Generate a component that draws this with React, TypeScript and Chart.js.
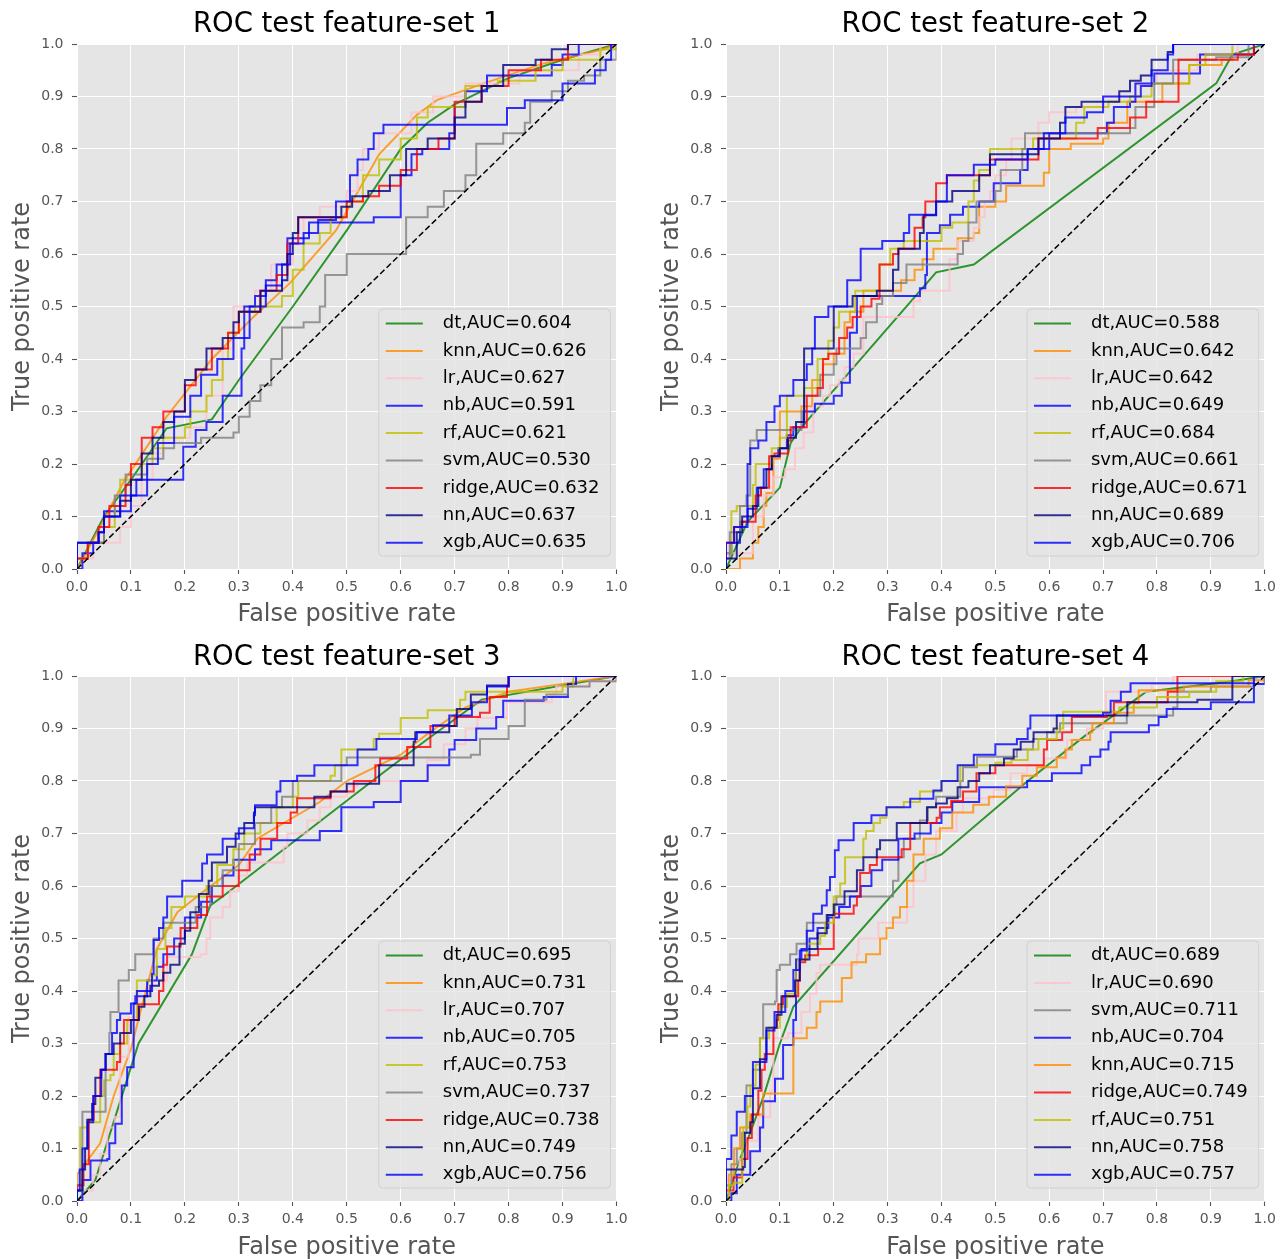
import React, { useEffect, useRef } from 'react';
import { Chart, registerables } from 'chart.js';

Chart.register(...registerables);

type Pt = [number, number];

const tickLabels = ['0.0', '0.1', '0.2', '0.3', '0.4', '0.5', '0.6', '0.7', '0.8', '0.9', '1.0'];
const xAxisTitle = 'False positive rate';
const yAxisTitle = 'True positive rate';
const panelTitles = ['ROC test feature-set 1', 'ROC test feature-set 2', 'ROC test feature-set 3', 'ROC test feature-set 4'];

// ---------------- feature-set 1 ----------------
const models1 = ['dt', 'knn', 'lr', 'nb', 'rf', 'svm', 'ridge', 'nn', 'xgb'];
const auc1 = [0.604, 0.626, 0.627, 0.591, 0.621, 0.53, 0.632, 0.637, 0.635];
const smooth1 = ['dt', 'knn'];
const fs1_dt: Pt[] = [[0, 0], [0.05, 0.1], [0.1, 0.17], [0.166, 0.268], [0.25, 0.285], [0.3, 0.36], [0.4, 0.5], [0.5, 0.645], [0.6, 0.8], [0.65, 0.85], [0.7, 0.885], [0.8, 0.935], [0.9, 0.97], [1, 1]];
const fs1_knn: Pt[] = [[0, 0], [0.043, 0.08], [0.086, 0.165], [0.166, 0.29], [0.25, 0.4], [0.327, 0.48], [0.395, 0.545], [0.48, 0.645], [0.56, 0.79], [0.63, 0.865], [0.667, 0.893], [0.754, 0.925], [0.865, 0.963], [0.976, 0.99], [1, 1]];
const fs1_lr: Pt[] = [[0, 0], [0, 0.02], [0.03, 0.05], [0.08, 0.08], [0.1, 0.12], [0.12, 0.17], [0.14, 0.22], [0.16, 0.25], [0.21, 0.27], [0.24, 0.33], [0.27, 0.42], [0.29, 0.5], [0.33, 0.53], [0.36, 0.58], [0.4, 0.63], [0.42, 0.67], [0.45, 0.69], [0.5, 0.72], [0.52, 0.76], [0.53, 0.8], [0.56, 0.83], [0.62, 0.87], [0.66, 0.9], [0.72, 0.925], [0.82, 0.95], [0.93, 0.98], [0.97, 1], [1, 1]];
const fs1_nb: Pt[] = [[0, 0], [0.01, 0.03], [0.03, 0.05], [0.05, 0.11], [0.1, 0.11], [0.1, 0.14], [0.13, 0.17], [0.197, 0.233], [0.22, 0.265], [0.24, 0.28], [0.27, 0.33], [0.305, 0.42], [0.31, 0.5], [0.33, 0.52], [0.35, 0.55], [0.37, 0.58], [0.39, 0.63], [0.43, 0.66], [0.55, 0.67], [0.6, 0.75], [0.62, 0.79], [0.64, 0.8], [0.69, 0.83], [0.7, 0.88], [0.72, 0.91], [0.76, 0.94], [0.84, 0.94], [0.88, 0.96], [0.9, 0.98], [0.93, 1], [1, 1]];
const fs1_rf: Pt[] = [[0, 0], [0, 0.02], [0.02, 0.05], [0.05, 0.08], [0.07, 0.12], [0.08, 0.17], [0.12, 0.2], [0.14, 0.23], [0.16, 0.25], [0.2, 0.27], [0.21, 0.3], [0.24, 0.33], [0.25, 0.36], [0.27, 0.4], [0.28, 0.45], [0.3, 0.49], [0.33, 0.5], [0.38, 0.52], [0.4, 0.57], [0.42, 0.62], [0.45, 0.64], [0.47, 0.67], [0.5, 0.7], [0.53, 0.75], [0.56, 0.78], [0.6, 0.82], [0.63, 0.86], [0.65, 0.88], [0.72, 0.92], [0.78, 0.93], [0.85, 0.95], [0.9, 0.97], [0.97, 0.99], [1, 1]];
const fs1_svm: Pt[] = [[0, 0], [0, 0.02], [0.02, 0.05], [0.05, 0.1], [0.07, 0.14], [0.09, 0.18], [0.13, 0.21], [0.16, 0.23], [0.18, 0.24], [0.23, 0.25], [0.29, 0.26], [0.3, 0.29], [0.32, 0.32], [0.34, 0.35], [0.36, 0.4], [0.38, 0.46], [0.42, 0.47], [0.45, 0.5], [0.46, 0.56], [0.5, 0.6], [0.6, 0.6], [0.61, 0.67], [0.65, 0.69], [0.68, 0.72], [0.72, 0.75], [0.74, 0.81], [0.79, 0.83], [0.83, 0.85], [0.84, 0.89], [0.88, 0.91], [0.91, 0.93], [0.94, 0.94], [0.97, 0.97], [1, 1]];
const fs1_ridge: Pt[] = [[0, 0], [0, 0.02], [0.02, 0.05], [0.04, 0.08], [0.06, 0.12], [0.09, 0.16], [0.1, 0.2], [0.12, 0.25], [0.14, 0.27], [0.16, 0.3], [0.2, 0.35], [0.22, 0.38], [0.25, 0.42], [0.28, 0.45], [0.3, 0.49], [0.34, 0.53], [0.37, 0.56], [0.39, 0.62], [0.41, 0.67], [0.47, 0.67], [0.5, 0.7], [0.53, 0.71], [0.56, 0.73], [0.6, 0.76], [0.63, 0.8], [0.67, 0.82], [0.7, 0.89], [0.75, 0.92], [0.8, 0.95], [0.86, 0.97], [0.91, 1], [1, 1]];
const fs1_nn: Pt[] = [[0, 0], [0, 0.05], [0.04, 0.07], [0.05, 0.1], [0.08, 0.13], [0.1, 0.17], [0.12, 0.22], [0.14, 0.25], [0.16, 0.28], [0.18, 0.3], [0.2, 0.36], [0.22, 0.38], [0.24, 0.42], [0.27, 0.44], [0.29, 0.47], [0.3, 0.49], [0.34, 0.53], [0.38, 0.55], [0.39, 0.6], [0.4, 0.64], [0.41, 0.67], [0.49, 0.69], [0.51, 0.71], [0.54, 0.72], [0.58, 0.75], [0.61, 0.8], [0.65, 0.82], [0.7, 0.86], [0.72, 0.89], [0.75, 0.92], [0.79, 0.96], [0.85, 0.97], [0.88, 0.99], [0.91, 1], [1, 1]];
const fs1_xgb: Pt[] = [[0, 0], [0, 0.05], [0.04, 0.07], [0.05, 0.1], [0.08, 0.14], [0.11, 0.17], [0.13, 0.2], [0.15, 0.24], [0.18, 0.29], [0.21, 0.33], [0.23, 0.37], [0.26, 0.4], [0.29, 0.44], [0.32, 0.5], [0.35, 0.54], [0.38, 0.58], [0.395, 0.62], [0.42, 0.64], [0.447, 0.665], [0.48, 0.7], [0.506, 0.75], [0.52, 0.78], [0.54, 0.8], [0.55, 0.83], [0.568, 0.846], [0.797, 0.878], [0.83, 0.893], [0.9, 0.925], [0.96, 0.95], [0.98, 0.97], [0.99, 1], [1, 1]];

// ---------------- feature-set 2 ----------------
const models2 = ['dt', 'knn', 'lr', 'nb', 'rf', 'svm', 'ridge', 'nn', 'xgb'];
const auc2 = [0.588, 0.642, 0.642, 0.649, 0.684, 0.661, 0.671, 0.689, 0.706];
const smooth2 = ['dt'];
const fs2_dt: Pt[] = [[0, 0], [0.04, 0.09], [0.1, 0.155], [0.12, 0.24], [0.14, 0.27], [0.39, 0.565], [0.46, 0.58], [0.91, 0.925], [0.94, 0.98], [1, 1]];
const fs2_knn: Pt[] = [[0, 0], [0.014, 0], [0.026, 0.02], [0.05, 0.05], [0.06, 0.08], [0.07, 0.12], [0.075, 0.145], [0.088, 0.21], [0.1, 0.3], [0.14, 0.31], [0.16, 0.36], [0.18, 0.39], [0.2, 0.41], [0.22, 0.47], [0.23, 0.49], [0.255, 0.53], [0.31, 0.53], [0.325, 0.55], [0.35, 0.57], [0.365, 0.59], [0.385, 0.61], [0.43, 0.63], [0.46, 0.64], [0.47, 0.69], [0.5, 0.7], [0.52, 0.73], [0.59, 0.755], [0.6, 0.8], [0.64, 0.81], [0.7, 0.82], [0.71, 0.85], [0.745, 0.89], [0.81, 0.925], [0.86, 0.96], [0.92, 0.97], [0.94, 0.98], [0.98, 1], [1, 1]];
const fs2_lr: Pt[] = [[0, 0], [0, 0.02], [0.007, 0.03], [0.05, 0.1], [0.07, 0.14], [0.088, 0.175], [0.11, 0.19], [0.128, 0.23], [0.144, 0.26], [0.162, 0.31], [0.18, 0.33], [0.193, 0.35], [0.21, 0.36], [0.22, 0.385], [0.237, 0.41], [0.255, 0.48], [0.335, 0.48], [0.348, 0.51], [0.36, 0.53], [0.415, 0.59], [0.43, 0.625], [0.46, 0.65], [0.47, 0.67], [0.48, 0.7], [0.49, 0.72], [0.5, 0.75], [0.52, 0.78], [0.53, 0.82], [0.58, 0.85], [0.6, 0.87], [0.65, 0.88], [0.7, 0.9], [0.76, 0.925], [0.8, 0.95], [0.875, 0.98], [0.95, 1], [1, 1]];
const fs2_nb: Pt[] = [[0, 0], [0, 0.03], [0.01, 0.05], [0.026, 0.09], [0.04, 0.115], [0.057, 0.155], [0.07, 0.19], [0.085, 0.215], [0.097, 0.23], [0.113, 0.255], [0.125, 0.27], [0.144, 0.3], [0.165, 0.315], [0.2, 0.33], [0.215, 0.355], [0.23, 0.45], [0.243, 0.52], [0.348, 0.52], [0.36, 0.535], [0.37, 0.56], [0.373, 0.64], [0.397, 0.655], [0.416, 0.675], [0.44, 0.69], [0.47, 0.7], [0.497, 0.735], [0.546, 0.76], [0.56, 0.8], [0.6, 0.83], [0.707, 0.85], [0.72, 0.88], [0.75, 0.89], [0.76, 0.925], [0.795, 0.944], [0.88, 0.98], [0.98, 1], [1, 1]];
const fs2_rf: Pt[] = [[0, 0], [0, 0.03], [0.01, 0.11], [0.02, 0.12], [0.05, 0.16], [0.055, 0.2], [0.085, 0.23], [0.1, 0.25], [0.113, 0.33], [0.145, 0.345], [0.17, 0.4], [0.19, 0.435], [0.2, 0.46], [0.21, 0.49], [0.24, 0.53], [0.285, 0.58], [0.305, 0.61], [0.33, 0.625], [0.4, 0.65], [0.42, 0.66], [0.45, 0.7], [0.46, 0.74], [0.47, 0.76], [0.49, 0.8], [0.57, 0.82], [0.65, 0.85], [0.665, 0.88], [0.71, 0.89], [0.75, 0.9], [0.79, 0.925], [0.86, 0.96], [0.89, 0.98], [0.94, 1], [1, 1]];
const fs2_svm: Pt[] = [[0, 0], [0, 0.02], [0.007, 0.07], [0.026, 0.12], [0.038, 0.14], [0.045, 0.245], [0.057, 0.265], [0.1, 0.265], [0.14, 0.3], [0.145, 0.33], [0.175, 0.37], [0.2, 0.39], [0.205, 0.42], [0.25, 0.44], [0.26, 0.47], [0.28, 0.505], [0.29, 0.52], [0.31, 0.545], [0.335, 0.58], [0.43, 0.6], [0.44, 0.625], [0.45, 0.66], [0.465, 0.7], [0.5, 0.72], [0.51, 0.76], [0.55, 0.8], [0.555, 0.83], [0.75, 0.84], [0.76, 0.88], [0.795, 0.925], [0.83, 0.97], [0.91, 0.975], [0.97, 1], [1, 1]];
const fs2_ridge: Pt[] = [[0, 0], [0, 0.05], [0.015, 0.08], [0.03, 0.09], [0.055, 0.14], [0.065, 0.155], [0.08, 0.215], [0.09, 0.22], [0.115, 0.245], [0.12, 0.27], [0.15, 0.33], [0.17, 0.345], [0.18, 0.4], [0.19, 0.41], [0.21, 0.44], [0.225, 0.46], [0.235, 0.48], [0.25, 0.5], [0.27, 0.515], [0.285, 0.58], [0.31, 0.6], [0.32, 0.61], [0.35, 0.65], [0.365, 0.67], [0.37, 0.7], [0.39, 0.735], [0.41, 0.75], [0.49, 0.78], [0.58, 0.82], [0.69, 0.84], [0.75, 0.86], [0.78, 0.89], [0.84, 0.97], [0.95, 0.98], [0.98, 1], [1, 1]];
const fs2_nn: Pt[] = [[0, 0], [0, 0.02], [0.02, 0.07], [0.03, 0.1], [0.05, 0.12], [0.06, 0.155], [0.075, 0.19], [0.085, 0.215], [0.1, 0.23], [0.115, 0.25], [0.13, 0.28], [0.145, 0.295], [0.145, 0.42], [0.2, 0.42], [0.2, 0.5], [0.235, 0.52], [0.28, 0.53], [0.31, 0.57], [0.32, 0.61], [0.36, 0.64], [0.367, 0.674], [0.39, 0.7], [0.42, 0.72], [0.47, 0.75], [0.49, 0.79], [0.58, 0.82], [0.62, 0.85], [0.63, 0.88], [0.66, 0.89], [0.73, 0.91], [0.75, 0.93], [0.77, 0.94], [0.79, 0.97], [0.82, 0.985], [0.83, 1], [1, 1]];
const fs2_xgb: Pt[] = [[0, 0], [0, 0.05], [0.015, 0.08], [0.04, 0.2], [0.045, 0.23], [0.06, 0.245], [0.075, 0.28], [0.09, 0.31], [0.1, 0.33], [0.125, 0.36], [0.15, 0.39], [0.16, 0.42], [0.165, 0.48], [0.19, 0.5], [0.22, 0.5], [0.225, 0.55], [0.25, 0.61], [0.29, 0.625], [0.33, 0.64], [0.34, 0.675], [0.39, 0.7], [0.41, 0.75], [0.46, 0.77], [0.5, 0.78], [0.56, 0.8], [0.59, 0.83], [0.63, 0.86], [0.67, 0.87], [0.7, 0.9], [0.77, 0.92], [0.79, 0.95], [0.82, 0.98], [0.83, 1], [1, 1]];

// ---------------- feature-set 3 ----------------
const models3 = ['dt', 'knn', 'lr', 'nb', 'rf', 'svm', 'ridge', 'nn', 'xgb'];
const auc3 = [0.695, 0.731, 0.707, 0.705, 0.753, 0.737, 0.738, 0.749, 0.756];
const smooth3 = ['dt', 'knn'];
const fs3_dt: Pt[] = [[0, 0], [0.034, 0.04], [0.114, 0.3], [0.213, 0.47], [0.247, 0.563], [0.27, 0.58], [0.56, 0.81], [0.65, 0.88], [0.75, 0.955], [1, 1]];
const fs3_knn: Pt[] = [[0, 0], [0, 0.05], [0.043, 0.11], [0.068, 0.2], [0.1, 0.29], [0.13, 0.41], [0.148, 0.48], [0.186, 0.55], [0.235, 0.59], [0.3, 0.64], [0.334, 0.69], [0.4, 0.73], [0.45, 0.76], [0.5, 0.8], [0.6, 0.85], [0.65, 0.89], [0.72, 0.94], [0.8, 0.97], [0.9, 0.985], [1, 1]];
const fs3_lr: Pt[] = [[0, 0], [0.01, 0.02], [0.03, 0.05], [0.043, 0.09], [0.056, 0.14], [0.07, 0.16], [0.08, 0.275], [0.096, 0.35], [0.114, 0.4], [0.14, 0.42], [0.167, 0.465], [0.229, 0.47], [0.24, 0.5], [0.247, 0.54], [0.27, 0.56], [0.284, 0.59], [0.3, 0.62], [0.315, 0.645], [0.383, 0.675], [0.39, 0.7], [0.427, 0.725], [0.45, 0.75], [0.47, 0.77], [0.5, 0.79], [0.52, 0.8], [0.636, 0.8], [0.649, 0.84], [0.68, 0.87], [0.72, 0.9], [0.742, 0.92], [0.797, 0.95], [0.88, 0.965], [0.888, 0.98], [0.95, 0.99], [1, 1]];
const fs3_nb: Pt[] = [[0, 0], [0.005, 0], [0.01, 0.04], [0.025, 0.077], [0.056, 0.08], [0.06, 0.11], [0.071, 0.147], [0.083, 0.22], [0.093, 0.255], [0.105, 0.31], [0.105, 0.376], [0.108, 0.39], [0.13, 0.42], [0.148, 0.446], [0.16, 0.47], [0.18, 0.5], [0.2, 0.54], [0.23, 0.57], [0.25, 0.6], [0.27, 0.62], [0.29, 0.65], [0.33, 0.67], [0.36, 0.687], [0.45, 0.705], [0.49, 0.75], [0.55, 0.76], [0.6, 0.8], [0.65, 0.83], [0.69, 0.86], [0.7, 0.878], [0.74, 0.9], [0.777, 0.922], [0.79, 0.953], [0.865, 0.96], [0.91, 0.985], [0.925, 1], [1, 1]];
const fs3_rf: Pt[] = [[0, 0], [0, 0.02], [0.006, 0.14], [0.02, 0.15], [0.043, 0.2], [0.05, 0.23], [0.062, 0.24], [0.068, 0.28], [0.08, 0.3], [0.093, 0.345], [0.111, 0.36], [0.111, 0.42], [0.14, 0.43], [0.148, 0.48], [0.164, 0.52], [0.175, 0.56], [0.2, 0.58], [0.24, 0.6], [0.26, 0.64], [0.29, 0.67], [0.31, 0.7], [0.34, 0.72], [0.37, 0.75], [0.4, 0.77], [0.41, 0.8], [0.47, 0.81], [0.478, 0.83], [0.49, 0.86], [0.55, 0.88], [0.56, 0.89], [0.6, 0.92], [0.65, 0.935], [0.71, 0.955], [0.72, 0.97], [0.9, 0.98], [0.92, 1], [1, 1]];
const fs3_svm: Pt[] = [[0, 0], [0, 0.02], [0.01, 0.17], [0.05, 0.17], [0.053, 0.28], [0.06, 0.32], [0.062, 0.36], [0.077, 0.42], [0.096, 0.44], [0.108, 0.47], [0.142, 0.5], [0.16, 0.53], [0.21, 0.53], [0.22, 0.56], [0.247, 0.6], [0.27, 0.63], [0.3, 0.68], [0.33, 0.72], [0.36, 0.75], [0.38, 0.77], [0.4, 0.8], [0.49, 0.83], [0.5, 0.845], [0.73, 0.85], [0.747, 0.88], [0.8, 0.905], [0.83, 0.955], [0.87, 0.965], [0.91, 0.98], [0.95, 0.99], [1, 1]];
const fs3_ridge: Pt[] = [[0, 0], [0, 0.03], [0.012, 0.07], [0.022, 0.155], [0.031, 0.2], [0.043, 0.25], [0.074, 0.265], [0.08, 0.3], [0.087, 0.345], [0.114, 0.375], [0.152, 0.4], [0.16, 0.45], [0.167, 0.485], [0.192, 0.52], [0.223, 0.545], [0.241, 0.58], [0.27, 0.6], [0.3, 0.63], [0.32, 0.66], [0.34, 0.69], [0.371, 0.72], [0.396, 0.74], [0.408, 0.767], [0.47, 0.78], [0.513, 0.8], [0.553, 0.83], [0.562, 0.843], [0.612, 0.865], [0.655, 0.905], [0.7, 0.922], [0.747, 0.93], [0.765, 0.96], [0.797, 0.98], [0.8, 1], [1, 1]];
const fs3_nn: Pt[] = [[0, 0], [0, 0.02], [0.01, 0.06], [0.015, 0.1], [0.019, 0.155], [0.028, 0.185], [0.034, 0.235], [0.045, 0.25], [0.053, 0.28], [0.068, 0.3], [0.08, 0.32], [0.1, 0.345], [0.115, 0.37], [0.125, 0.39], [0.136, 0.41], [0.152, 0.42], [0.16, 0.435], [0.173, 0.45], [0.19, 0.46], [0.19, 0.49], [0.2, 0.515], [0.21, 0.55], [0.226, 0.585], [0.244, 0.61], [0.25, 0.645], [0.278, 0.675], [0.294, 0.7], [0.31, 0.72], [0.328, 0.74], [0.33, 0.75], [0.44, 0.77], [0.47, 0.78], [0.5, 0.795], [0.56, 0.83], [0.624, 0.875], [0.627, 0.893], [0.69, 0.905], [0.704, 0.937], [0.73, 0.965], [0.76, 0.982], [0.8, 1], [1, 1]];
const fs3_xgb: Pt[] = [[0, 0], [0, 0.02], [0.005, 0.06], [0.01, 0.1], [0.02, 0.15], [0.03, 0.2], [0.045, 0.25], [0.053, 0.28], [0.065, 0.32], [0.074, 0.345], [0.08, 0.357], [0.1, 0.376], [0.111, 0.4], [0.139, 0.433], [0.142, 0.497], [0.152, 0.52], [0.16, 0.54], [0.167, 0.58], [0.195, 0.61], [0.232, 0.643], [0.241, 0.66], [0.27, 0.69], [0.3, 0.71], [0.328, 0.735], [0.33, 0.754], [0.37, 0.78], [0.377, 0.8], [0.408, 0.81], [0.44, 0.83], [0.52, 0.86], [0.555, 0.88], [0.63, 0.893], [0.66, 0.906], [0.69, 0.925], [0.732, 0.95], [0.76, 0.98], [0.8, 1], [1, 1]];

// ---------------- feature-set 4 ----------------
const models4 = ['dt', 'lr', 'svm', 'nb', 'knn', 'ridge', 'rf', 'nn', 'xgb'];
const auc4 = [0.689, 0.69, 0.711, 0.704, 0.715, 0.749, 0.751, 0.758, 0.757];
const smooth4 = ['dt'];
const fs4_dt: Pt[] = [[0, 0], [0.026, 0.08], [0.045, 0.13], [0.07, 0.2], [0.1, 0.3], [0.125, 0.37], [0.36, 0.643], [0.4, 0.66], [0.56, 0.8], [0.665, 0.885], [0.733, 0.935], [0.78, 0.97], [0.94, 0.99], [1, 1]];
const fs4_lr: Pt[] = [[0, 0], [0, 0.04], [0.01, 0.06], [0.025, 0.08], [0.038, 0.115], [0.06, 0.16], [0.082, 0.21], [0.088, 0.31], [0.115, 0.32], [0.14, 0.36], [0.156, 0.395], [0.168, 0.435], [0.175, 0.45], [0.243, 0.47], [0.246, 0.5], [0.283, 0.53], [0.336, 0.56], [0.348, 0.61], [0.37, 0.66], [0.39, 0.705], [0.428, 0.74], [0.44, 0.767], [0.497, 0.783], [0.528, 0.815], [0.559, 0.83], [0.59, 0.843], [0.633, 0.878], [0.67, 0.9], [0.7, 0.92], [0.705, 0.97], [0.79, 0.985], [0.83, 1], [1, 1]];
const fs4_svm: Pt[] = [[0, 0], [0, 0.03], [0.01, 0.07], [0.02, 0.1], [0.03, 0.13], [0.038, 0.165], [0.038, 0.22], [0.05, 0.25], [0.063, 0.31], [0.069, 0.375], [0.091, 0.38], [0.094, 0.44], [0.1, 0.45], [0.119, 0.47], [0.131, 0.49], [0.15, 0.53], [0.18, 0.53], [0.19, 0.545], [0.202, 0.565], [0.205, 0.58], [0.3, 0.58], [0.31, 0.61], [0.32, 0.655], [0.33, 0.69], [0.36, 0.725], [0.375, 0.75], [0.39, 0.77], [0.435, 0.8], [0.44, 0.826], [0.466, 0.846], [0.528, 0.846], [0.54, 0.86], [0.57, 0.88], [0.596, 0.893], [0.62, 0.91], [0.744, 0.925], [0.83, 0.94], [0.838, 0.97], [0.9, 0.98], [0.98, 1], [1, 1]];
const fs4_nb: Pt[] = [[0, 0], [0.01, 0.015], [0.02, 0.05], [0.045, 0.095], [0.063, 0.14], [0.069, 0.19], [0.088, 0.19], [0.091, 0.233], [0.106, 0.297], [0.125, 0.345], [0.13, 0.46], [0.14, 0.48], [0.155, 0.5], [0.17, 0.52], [0.19, 0.54], [0.21, 0.56], [0.23, 0.58], [0.25, 0.6], [0.27, 0.63], [0.29, 0.65], [0.32, 0.69], [0.35, 0.7], [0.38, 0.72], [0.4, 0.74], [0.42, 0.76], [0.47, 0.788], [0.559, 0.8], [0.605, 0.815], [0.66, 0.83], [0.676, 0.846], [0.695, 0.86], [0.71, 0.875], [0.714, 0.893], [0.785, 0.906], [0.803, 0.922], [0.818, 0.937], [0.9, 0.95], [0.98, 0.985], [1, 1]];
const fs4_knn: Pt[] = [[0, 0], [0.005, 0.05], [0.015, 0.1], [0.026, 0.14], [0.045, 0.165], [0.069, 0.205], [0.113, 0.205], [0.125, 0.22], [0.125, 0.31], [0.15, 0.33], [0.168, 0.36], [0.175, 0.38], [0.215, 0.395], [0.215, 0.425], [0.233, 0.455], [0.26, 0.47], [0.286, 0.5], [0.298, 0.52], [0.31, 0.54], [0.323, 0.56], [0.336, 0.61], [0.348, 0.66], [0.367, 0.69], [0.397, 0.71], [0.42, 0.74], [0.459, 0.755], [0.488, 0.77], [0.52, 0.79], [0.55, 0.81], [0.577, 0.826], [0.614, 0.845], [0.63, 0.86], [0.642, 0.878], [0.676, 0.893], [0.68, 0.91], [0.72, 0.93], [0.757, 0.948], [0.766, 0.973], [0.85, 0.98], [0.97, 0.992], [1, 1]];
const fs4_ridge: Pt[] = [[0, 0], [0, 0.02], [0.014, 0.045], [0.03, 0.08], [0.04, 0.12], [0.048, 0.165], [0.06, 0.21], [0.066, 0.25], [0.072, 0.28], [0.088, 0.33], [0.094, 0.345], [0.097, 0.375], [0.106, 0.39], [0.131, 0.39], [0.134, 0.42], [0.137, 0.455], [0.147, 0.468], [0.171, 0.48], [0.2, 0.5], [0.2, 0.547], [0.215, 0.547], [0.237, 0.563], [0.243, 0.58], [0.249, 0.625], [0.267, 0.64], [0.28, 0.655], [0.326, 0.67], [0.342, 0.72], [0.391, 0.73], [0.397, 0.75], [0.418, 0.762], [0.44, 0.78], [0.465, 0.815], [0.5, 0.83], [0.59, 0.86], [0.596, 0.878], [0.624, 0.893], [0.642, 0.922], [0.707, 0.925], [0.72, 0.95], [0.82, 0.97], [0.838, 1], [1, 1]];
const fs4_rf: Pt[] = [[0, 0], [0.005, 0.03], [0.014, 0.035], [0.03, 0.1], [0.032, 0.14], [0.04, 0.18], [0.045, 0.22], [0.055, 0.26], [0.063, 0.31], [0.08, 0.33], [0.1, 0.37], [0.113, 0.395], [0.13, 0.44], [0.134, 0.46], [0.15, 0.49], [0.175, 0.505], [0.184, 0.53], [0.2, 0.53], [0.2, 0.58], [0.212, 0.605], [0.221, 0.655], [0.255, 0.69], [0.26, 0.705], [0.274, 0.72], [0.286, 0.73], [0.298, 0.75], [0.33, 0.76], [0.36, 0.78], [0.4, 0.8], [0.435, 0.83], [0.5, 0.835], [0.53, 0.84], [0.56, 0.86], [0.58, 0.88], [0.614, 0.9], [0.626, 0.932], [0.73, 0.94], [0.8, 0.96], [0.86, 0.97], [0.91, 0.99], [0.96, 1], [1, 1]];
const fs4_nn: Pt[] = [[0, 0], [0, 0.06], [0.032, 0.065], [0.035, 0.13], [0.045, 0.15], [0.05, 0.215], [0.063, 0.27], [0.075, 0.33], [0.094, 0.355], [0.103, 0.39], [0.128, 0.42], [0.137, 0.46], [0.155, 0.48], [0.17, 0.51], [0.187, 0.545], [0.2, 0.565], [0.22, 0.59], [0.243, 0.63], [0.255, 0.655], [0.28, 0.67], [0.286, 0.687], [0.317, 0.72], [0.373, 0.75], [0.39, 0.757], [0.41, 0.767], [0.43, 0.788], [0.45, 0.8], [0.47, 0.815], [0.49, 0.83], [0.516, 0.843], [0.534, 0.86], [0.547, 0.875], [0.571, 0.893], [0.608, 0.9], [0.614, 0.925], [0.745, 0.95], [0.875, 0.955], [0.94, 1], [1, 1]];
const fs4_xgb: Pt[] = [[0, 0], [0, 0.08], [0.01, 0.125], [0.02, 0.17], [0.035, 0.2], [0.05, 0.265], [0.075, 0.325], [0.09, 0.36], [0.11, 0.4], [0.125, 0.44], [0.137, 0.477], [0.15, 0.515], [0.162, 0.547], [0.178, 0.563], [0.187, 0.592], [0.193, 0.617], [0.202, 0.668], [0.209, 0.687], [0.237, 0.72], [0.27, 0.735], [0.298, 0.75], [0.342, 0.766], [0.385, 0.782], [0.4, 0.8], [0.43, 0.83], [0.46, 0.85], [0.5, 0.87], [0.54, 0.88], [0.56, 0.9], [0.565, 0.925], [0.7, 0.93], [0.714, 0.953], [0.733, 0.97], [0.751, 0.986], [0.98, 1], [1, 1]];

// ---------------- styling ----------------
const FONT = '"DejaVu Sans", "Liberation Sans", sans-serif';
const modelColors: Record<string, string> = {
  dt: 'rgba(0,128,0,0.8)',
  knn: 'rgba(255,140,0,0.8)',
  lr: 'rgba(255,192,203,0.8)',
  nb: 'rgba(0,0,255,0.8)',
  rf: 'rgba(191,191,0,0.8)',
  svm: 'rgba(128,128,128,0.8)',
  ridge: 'rgba(255,0,0,0.8)',
  nn: 'rgba(0,0,128,0.8)',
  xgb: 'rgba(0,0,255,0.8)',
};

interface Layout {
  left: number; top: number; w: number; h: number;
  yW: number; xH: number; padTop: number; padRight: number;
  yTitlePad: number; xTitlePad: number; titleGap: number;
}

interface PanelCfg {
  title: string;
  models: string[];
  aucs: number[];
  curves: Pt[][];
  smooth: string[];
  layout: Layout;
}

const panels: PanelCfg[] = [
  {
    title: panelTitles[0], models: models1, aucs: auc1, smooth: smooth1,
    curves: [fs1_dt, fs1_knn, fs1_lr, fs1_nb, fs1_rf, fs1_svm, fs1_ridge, fs1_nn, fs1_xgb],
    layout: { left: 0, top: 0, w: 642, h: 630, yW: 77, xH: 61, padTop: 44, padRight: 25.5, yTitlePad: 8.2, xTitlePad: 3, titleGap: 19 },
  },
  {
    title: panelTitles[1], models: models2, aucs: auc2, smooth: smooth2,
    curves: [fs2_dt, fs2_knn, fs2_lr, fs2_nb, fs2_rf, fs2_svm, fs2_ridge, fs2_nn, fs2_xgb],
    layout: { left: 642, top: 0, w: 642, h: 630, yW: 84, xH: 61, padTop: 44, padRight: 19.3, yTitlePad: 15.2, xTitlePad: 3, titleGap: 19 },
  },
  {
    title: panelTitles[2], models: models3, aucs: auc3, smooth: smooth3,
    curves: [fs3_dt, fs3_knn, fs3_lr, fs3_nb, fs3_rf, fs3_svm, fs3_ridge, fs3_nn, fs3_xgb],
    layout: { left: 0, top: 630, w: 642, h: 629, yW: 77, xH: 58, padTop: 46, padRight: 25.5, yTitlePad: 8.2, xTitlePad: -0.6, titleGap: 18 },
  },
  {
    title: panelTitles[3], models: models4, aucs: auc4, smooth: smooth4,
    curves: [fs4_dt, fs4_lr, fs4_svm, fs4_nb, fs4_knn, fs4_ridge, fs4_rf, fs4_nn, fs4_xgb],
    layout: { left: 642, top: 630, w: 642, h: 629, yW: 84, xH: 58, padTop: 46, padRight: 19.3, yTitlePad: 15.2, xTitlePad: -0.6, titleGap: 18 },
  },
];

function RocPanel({ cfg }: { cfg: PanelCfg }) {
  const ref = useRef<HTMLCanvasElement | null>(null);
  const L = cfg.layout;

  useEffect(() => {
    const canvas = ref.current;
    if (!canvas) return;
    const n = cfg.models.length;
    const datasets: any[] = cfg.models.map((m, i) => ({
      label: m,
      data: cfg.curves[i].map(([x, y]) => ({ x, y })),
      borderColor: modelColors[m],
      backgroundColor: modelColors[m],
      borderWidth: 2,
      pointRadius: 0,
      pointHoverRadius: 0,
      fill: false,
      tension: 0,
      stepped: cfg.smooth.includes(m) ? false : 'before',
      order: n - i,
    }));
    datasets.push({
      label: 'chance',
      data: [{ x: 0, y: 0 }, { x: 1, y: 1 }],
      borderColor: '#000000',
      borderWidth: 1.5,
      borderDash: [6, 3],
      pointRadius: 0,
      fill: false,
      order: 0,
    });

    const decor = {
      id: 'decor',
      beforeDraw(chart: any) {
        const { ctx, chartArea: ca } = chart;
        ctx.save();
        ctx.fillStyle = '#E5E5E5';
        ctx.fillRect(ca.left, ca.top, ca.right - ca.left, ca.bottom - ca.top);
        ctx.restore();
      },
      afterDraw(chart: any) {
        const { ctx, chartArea: ca } = chart;
        ctx.save();
        // title
        ctx.font = `27.5px ${FONT}`;
        ctx.fillStyle = '#000000';
        ctx.textAlign = 'center';
        ctx.textBaseline = 'middle';
        ctx.fillText(cfg.title, (ca.left + ca.right) / 2, ca.top - L.titleGap);
        // legend
        ctx.font = `18px ${FONT}`;
        const texts = cfg.models.map((m, i) => `${m},AUC=${cfg.aucs[i].toFixed(3)}`);
        const maxW = Math.max(...texts.map((t) => ctx.measureText(t).width));
        const right = ca.right - 6;
        const width = 64 + maxW + 11;
        const left = right - width;
        const bottom = ca.bottom - 13;
        const height = 247;
        const top = bottom - height;
        ctx.beginPath();
        if ((ctx as any).roundRect) (ctx as any).roundRect(left, top, width, height, 4);
        else ctx.rect(left, top, width, height);
        ctx.fillStyle = 'rgba(229,229,229,0.8)';
        ctx.fill();
        ctx.strokeStyle = 'rgba(204,204,204,0.8)';
        ctx.lineWidth = 1;
        ctx.stroke();
        texts.forEach((t, i) => {
          const y = top + 14.5 + i * 27.4;
          ctx.beginPath();
          ctx.moveTo(left + 7, y);
          ctx.lineTo(left + 44, y);
          ctx.strokeStyle = modelColors[cfg.models[i]];
          ctx.lineWidth = 2;
          ctx.stroke();
          ctx.fillStyle = '#000000';
          ctx.textAlign = 'left';
          ctx.textBaseline = 'middle';
          ctx.fillText(t, left + 64, y);
        });
        ctx.restore();
      },
    };

    const tickFont = { family: FONT, size: 14 };
    const xTitleFont = { family: FONT, size: 24, lineHeight: 1.0 };
    const yTitleFont = { family: FONT, size: 24, lineHeight: 1.2 };
    const fmt = (v: any) => tickLabels[Math.round(Number(v) * 10)] ?? '';

    const chart = new Chart(canvas, {
      type: 'line',
      data: { datasets },
      options: {
        responsive: false,
        maintainAspectRatio: false,
        animation: false,
        devicePixelRatio: 1,
        events: [],
        layout: { padding: { top: L.padTop, right: L.padRight, left: 0, bottom: 0 } },
        plugins: { legend: { display: false }, tooltip: { enabled: false }, title: { display: false } },
        scales: {
          x: {
            type: 'linear',
            min: 0,
            max: 1,
            ticks: { stepSize: 0.1, autoSkip: false, maxRotation: 0, color: '#555555', font: tickFont, padding: 5, callback: fmt },
            grid: { color: '#FFFFFF', lineWidth: 1, tickLength: 5, tickColor: '#555555', tickWidth: 1.1 },
            border: { display: false },
            title: { display: true, text: xAxisTitle, color: '#555555', font: xTitleFont, padding: { top: 0, bottom: L.xTitlePad } },
            afterFit: (s: any) => { s.height = L.xH; s.paddingLeft = 0; s.paddingRight = 0; },
          },
          y: {
            type: 'linear',
            position: 'left',
            min: 0,
            max: 1,
            ticks: { stepSize: 0.1, autoSkip: false, color: '#555555', font: tickFont, padding: 8.5, callback: fmt },
            grid: { color: '#FFFFFF', lineWidth: 1, tickLength: 5, tickColor: '#555555', tickWidth: 1.1 },
            border: { display: false },
            title: { display: true, text: yAxisTitle, color: '#555555', font: yTitleFont, padding: { top: L.yTitlePad, bottom: 0 } },
            afterFit: (s: any) => { s.width = L.yW; s.paddingTop = 0; s.paddingBottom = 0; },
          },
        },
      } as any,
      plugins: [decor],
    });
    return () => chart.destroy();
  }, [cfg]);

  return (
    <canvas
      ref={ref}
      width={L.w}
      height={L.h}
      style={{ position: 'absolute', left: L.left, top: L.top, width: L.w, height: L.h }}
    />
  );
}

export default function App() {
  return (
    <div style={{ position: 'absolute', left: 0, top: 0, width: 1284, height: 1259, background: '#FFFFFF' }}>
      {panels.map((p, i) => (
        <RocPanel key={i} cfg={p} />
      ))}
    </div>
  );
}
